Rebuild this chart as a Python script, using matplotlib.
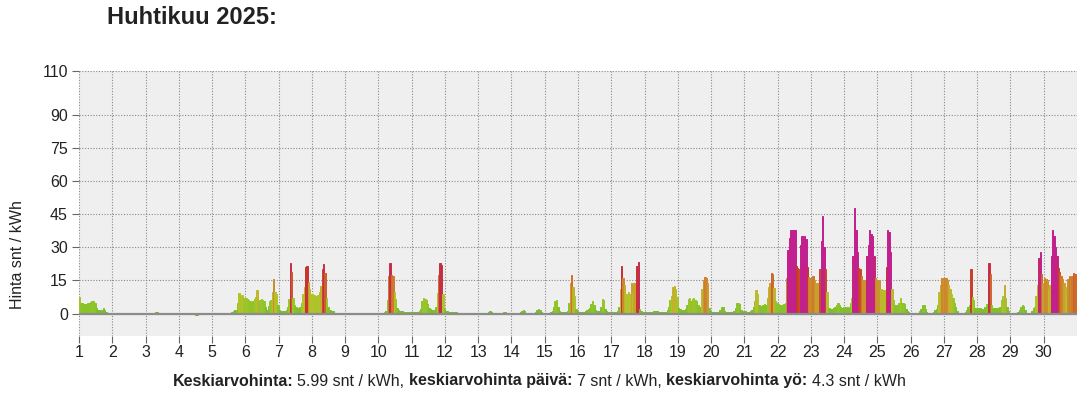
import numpy as np
import matplotlib
matplotlib.use("Agg")
import matplotlib.pyplot as plt
from matplotlib.colors import LinearSegmentedColormap

# ---------------- data ----------------
title = "Huhtikuu 2025:"
y_label = "Hinta snt / kWh"
days = list(range(1, 31))
y_ticks = [0, 15, 30, 45, 60, 75, 90, 110]

# hourly prices (snt/kWh), 24 values per day, April 1..30
hourly_prices = [
    [7.7, 5.0, 4.7, 4.5, 4.3, 4.5, 4.7, 5.0, 5.3, 5.8, 5.5, 5.0, 2.5, 1.7, 1.5, 1.6, 1.8, 2.5, 1.5, 0.8, 0.3, 0.2, 0.2, 0.1],
    [0.1, 0.1, 0.1, 0.1, 0.1, 0.1, 0.2, 0.2, 0.1, 0.1, 0.1, 0.1, 0.1, 0.1, 0.1, 0.1, 0.1, 0.2, 0.2, 0.2, 0.3, 0.2, 0.2, 0.2],
    [0.2, 0.2, 0.2, 0.2, 0.2, 0.3, 0.4, 0.6, 0.9, 0.5, 0.3, 0.2, 0.1, 0.1, 0.1, 0.1, 0.2, 0.2, 0.3, 0.3, 0.2, 0.2, 0.1, 0.1],
    [0.0, -0.1, -0.2, -0.2, -0.3, -0.3, -0.2, -0.1, -0.2, -0.3, -0.3, -0.3, -0.4, -0.4, -0.3, -0.2, -0.1, 0.0, 0.1, 0.1, 0.1, 0.0, 0.0, 0.0],
    [0.1, 0.1, 0.1, 0.1, 0.2, 0.3, 0.4, 0.5, 0.4, 0.3, 0.3, 0.2, 0.3, 0.5, 0.9, 1.4, 1.7, 1.0, 5.0, 9.3, 8.0, 8.5, 7.0, 7.0],
    [7.0, 6.5, 6.0, 5.5, 5.0, 5.5, 6.5, 7.5, 10.8, 5.5, 6.0, 6.5, 6.0, 5.5, 3.0, 1.5, 3.5, 5.5, 6.0, 10.0, 15.6, 10.0, 9.0, 4.0],
    [1.5, 1.2, 1.0, 1.0, 1.2, 1.5, 3.0, 6.5, 22.9, 19.0, 7.0, 4.0, 3.0, 2.5, 2.5, 3.0, 5.0, 9.0, 12.0, 21.0, 21.5, 14.5, 11.0, 9.0],
    [9.0, 8.5, 8.0, 8.0, 8.5, 10.0, 12.6, 20.0, 22.6, 18.6, 7.0, 3.0, 1.5, 1.5, 1.2, 1.0, 0.5, 0.4, 0.3, 0.3, 0.3, 0.2, 0.2, 0.2],
    [0.2, 0.2, 0.2, 0.2, 0.2, 0.3, 0.3, 0.4, 0.4, 0.3, 0.3, 0.2, 0.2, 0.2, 0.2, 0.3, 0.3, 0.3, 0.4, 0.4, 0.3, 0.3, 0.3, 0.3],
    [0.4, 0.4, 0.5, 0.5, 0.6, 1.0, 6.0, 17.0, 22.9, 17.6, 17.0, 10.0, 6.5, 2.7, 1.5, 1.2, 1.0, 1.0, 0.8, 0.8, 0.7, 0.7, 0.6, 0.6],
    [0.8, 0.8, 0.8, 0.8, 0.8, 1.0, 2.0, 5.5, 7.0, 6.5, 6.0, 4.5, 2.5, 2.0, 1.8, 1.5, 1.5, 3.0, 9.4, 17.6, 22.9, 22.0, 9.0, 2.0],
    [1.0, 1.0, 0.9, 0.8, 0.8, 0.8, 0.7, 0.7, 0.6, 0.5, 0.4, 0.3, 0.3, 0.3, 0.3, 0.3, 0.3, 0.4, 0.4, 0.4, 0.3, 0.3, 0.3, 0.3],
    [0.3, 0.3, 0.3, 0.3, 0.3, 0.4, 0.5, 0.7, 1.0, 0.8, 0.4, 0.3, 0.3, 0.3, 0.3, 0.3, 0.3, 0.4, 0.7, 0.8, 0.5, 0.3, 0.3, 0.3],
    [0.3, 0.3, 0.3, 0.3, 0.3, 0.4, 0.6, 1.0, 1.6, 1.3, 0.5, 0.3, 0.3, 0.3, 0.3, 0.3, 0.4, 0.8, 1.5, 2.0, 1.7, 0.8, 0.4, 0.3],
    [0.4, 0.4, 0.4, 0.5, 0.6, 1.2, 3.0, 5.5, 6.0, 3.0, 1.2, 0.8, 0.6, 0.6, 0.6, 0.7, 1.0, 5.0, 14.0, 17.6, 12.0, 8.0, 2.0, 1.0],
    [0.8, 0.8, 0.8, 0.8, 0.9, 1.0, 1.5, 2.0, 2.5, 4.5, 5.5, 4.0, 1.5, 1.0, 1.0, 1.2, 3.0, 6.5, 6.0, 2.0, 1.0, 0.8, 0.8, 0.8],
    [0.8, 0.8, 0.8, 0.8, 1.0, 3.0, 11.0, 21.7, 16.0, 13.0, 9.0, 8.5, 10.0, 9.0, 14.0, 9.0, 14.0, 14.0, 21.4, 23.6, 2.0, 1.0, 0.8, 0.8],
    [0.8, 0.6, 0.6, 0.6, 0.6, 0.8, 1.0, 1.2, 1.2, 1.0, 0.8, 0.6, 0.6, 0.6, 0.6, 0.8, 1.5, 3.0, 6.0, 8.0, 12.0, 12.3, 11.0, 7.7],
    [2.5, 2.0, 1.8, 1.8, 1.8, 2.0, 4.0, 6.5, 7.0, 5.5, 6.5, 7.0, 6.0, 5.5, 4.0, 3.0, 3.0, 11.0, 15.0, 16.5, 16.0, 14.0, 2.5, 1.0],
    [0.6, 0.6, 0.6, 0.6, 0.6, 0.8, 1.5, 3.2, 3.0, 1.2, 0.6, 0.6, 0.6, 0.6, 0.6, 0.6, 1.0, 2.5, 5.0, 5.0, 4.5, 1.5, 1.0, 0.8],
    [1.0, 0.9, 0.9, 0.9, 1.0, 1.5, 3.0, 5.5, 10.6, 9.0, 4.0, 3.5, 3.5, 4.0, 4.5, 4.0, 7.0, 12.0, 13.8, 18.4, 18.0, 11.6, 5.5, 5.0],
    [4.5, 4.0, 4.0, 4.0, 4.5, 5.0, 16.0, 29.0, 34.3, 37.7, 37.7, 37.7, 37.7, 21.4, 20.5, 20.0, 31.0, 35.0, 34.0, 35.0, 34.0, 21.0, 16.5, 16.0],
    [16.0, 17.0, 15.0, 14.0, 14.0, 14.0, 20.0, 33.0, 44.0, 30.0, 20.0, 10.0, 2.5, 2.5, 2.0, 2.0, 2.5, 3.0, 4.0, 5.0, 4.0, 3.0, 2.5, 3.0],
    [3.0, 3.0, 2.5, 3.0, 5.0, 7.0, 26.0, 47.7, 38.0, 28.0, 20.5, 20.0, 17.0, 15.0, 15.0, 15.0, 26.0, 31.0, 38.0, 36.0, 35.0, 26.0, 16.0, 15.0],
    [15.0, 15.0, 11.0, 10.6, 10.6, 10.6, 21.0, 38.0, 37.0, 28.0, 11.0, 6.0, 4.0, 4.0, 4.0, 5.0, 7.0, 5.0, 5.0, 4.5, 2.0, 1.0, 0.6, 0.5],
    [0.5, 0.4, 0.4, 0.4, 0.4, 0.5, 1.0, 2.0, 4.0, 4.0, 2.0, 0.6, 0.4, 0.4, 0.4, 0.5, 0.8, 1.5, 2.0, 4.0, 10.0, 13.0, 16.0, 15.0],
    [16.0, 16.0, 15.0, 13.0, 11.0, 9.0, 7.0, 5.0, 3.0, 1.0, 0.5, 0.4, 0.4, 0.4, 0.5, 0.8, 1.5, 3.0, 4.0, 20.4, 7.7, 6.0, 2.5, 2.5],
    [2.5, 2.5, 2.5, 2.0, 2.0, 3.0, 4.5, 4.5, 22.7, 18.0, 4.0, 2.5, 2.5, 2.5, 2.5, 2.5, 3.0, 6.0, 8.0, 13.0, 7.0, 3.0, 1.0, 0.5],
    [0.5, 0.5, 0.5, 0.5, 0.5, 0.8, 1.5, 3.0, 4.0, 3.5, 1.5, 0.5, 0.4, 0.4, 0.5, 1.0, 2.5, 3.0, 8.0, 13.0, 25.0, 28.0, 18.0, 14.0],
    [16.0, 15.5, 15.0, 11.0, 13.0, 26.0, 38.0, 35.0, 30.0, 26.0, 20.5, 19.0, 17.0, 15.5, 14.0, 12.0, 9.0, 15.5, 17.0, 15.5, 17.0, 18.6, 18.0, 18.0],
]

avg_all = "5.99"
avg_day = "7"
avg_night = "4.3"

# ---------------- figure ----------------
W, H = 1091, 394
fig = plt.figure(figsize=(W / 100, H / 100), dpi=100)
plt.rcParams['font.family'] = ['Liberation Sans', 'DejaVu Sans']

ax_l, ax_r, ax_t, ax_b = 79, 1077, 70.7, 335.7
ax = fig.add_axes([ax_l / W, 1 - ax_b / H, (ax_r - ax_l) / W, (ax_b - ax_t) / H])
ax.set_facecolor('#efefef')

values = np.array(hourly_prices, dtype=float).ravel()
xpos = np.array([d + h / 24 for d in days for h in range(24)])

cmap = LinearSegmentedColormap.from_list('price', [
    (0.0, '#72bb2b'),
    (5 / 30, '#8cc42a'),
    (9 / 30, '#b3c42a'),
    (13 / 30, '#c6ac2d'),
    (17 / 30, '#cf7b2b'),
    (21 / 30, '#c8352a'),
    (24 / 30, '#c42a5a'),
    (27 / 30, '#c2208e'),
    (1.0, '#c2208e'),
])
colors = cmap(np.clip(values, 0, 30) / 30)

ax.bar(xpos, values, width=1 / 24, align='edge', color=colors,
       edgecolor=colors, linewidth=0.7, zorder=3)

ax.set_xlim(1, 31)
ax.set_ylim(-10, 110)
ax.set_xticks(days)
ax.set_xticklabels([str(d) for d in days])
ax.set_yticks(y_ticks)

ax.grid(True, which='major', color='#8a8a8a', linestyle=(0, (1, 1.5)), linewidth=0.8, zorder=1)
ax.axvline(31, color='#8a8a8a', linestyle=(0, (1, 1.5)), linewidth=0.8, zorder=1)
ax.axhline(0, color='#8c8c8c', linewidth=1.6, zorder=4)

for s in ax.spines.values():
    s.set_visible(False)
ax.tick_params(axis='both', labelsize=11.5, colors='#222222', length=5, width=0.8)
ax.tick_params(axis='x', color='#666666', pad=2)
ax.tick_params(axis='y', color='#666666', pad=3)

fig.text(18 / W, 1 - 255 / H, y_label, rotation=90, ha='center', va='center',
         fontsize=11.5, color='#222222')
fig.text(107 / W, 1 - 18 / H, title, ha='left', va='center', fontsize=17,
         fontweight='bold', color='#222222')

# bottom summary line with mixed bold / regular parts
parts = [
    ("Keskiarvohinta:", 'bold', 4), (f"{avg_all} snt / kWh,", 'normal', 5),
    ("keskiarvohinta päivä:", 'bold', 4), (f"{avg_day} snt / kWh,", 'normal', 5),
    ("keskiarvohinta yö:", 'bold', 4), (f"{avg_night} snt / kWh", 'normal', 0),
]
fig.canvas.draw()
renderer = fig.canvas.get_renderer()
texts = []
total = 0
for s, w, gap in parts:
    t = fig.text(0, 1 - 381 / H, s, fontsize=11.5, fontweight=w, color='#222222',
                 ha='left', va='center')
    bb = t.get_window_extent(renderer)
    texts.append((t, bb.width + gap))
    total += bb.width + gap
x0 = 539 - total / 2
for t, wdt in texts:
    t.set_x(x0 / W)
    x0 += wdt

fig.savefig('out.png', dpi=100)
